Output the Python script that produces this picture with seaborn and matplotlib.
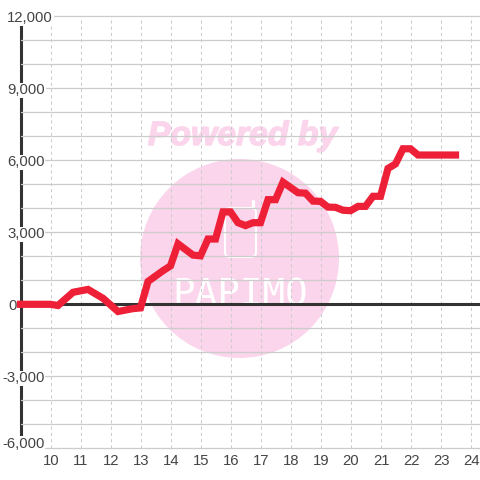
import matplotlib
matplotlib.use("Agg")
import matplotlib.pyplot as plt
import matplotlib.patheffects as pe
import seaborn as sns
import pandas as pd
from matplotlib.patches import Circle, FancyBboxPatch
from matplotlib.transforms import ScaledTranslation
from matplotlib.lines import Line2D

hours = [9, 9.5, 10, 10.25, 10.75, 11.25, 11.75, 12.25, 12.75, 13, 13.25, 13.75, 14, 14.25,
         14.75, 15, 15.25, 15.5, 15.75, 16, 16.25, 16.5, 16.75, 17, 17.25, 17.5, 17.75,
         18.25, 18.5, 18.75, 19, 19.25, 19.5, 19.75, 20, 20.25, 20.5, 20.75, 21, 21.25,
         21.5, 21.75, 22, 22.25, 22.5, 23, 23.5]
values = [0, 0, 0, -50, 500, 620, 250, -300, -180, -150, 950, 1400, 1600, 2520,
          2050, 2020, 2720, 2720, 3850, 3850, 3400, 3280, 3400, 3400, 4360, 4360, 5090,
          4650, 4630, 4300, 4290, 4050, 4040, 3920, 3900, 4080, 4080, 4500, 4500, 5660,
          5850, 6480, 6480, 6220, 6220, 6220, 6220]
x_ticks = list(range(10, 25))
y_ticks = list(range(-6000, 13000, 1000))
y_labels = {12000: "12,000", 9000: "9,000", 6000: "6,000", 3000: "3,000",
            0: "0", -3000: "-3,000", -6000: "-6,000"}
watermark_top = "Powered by"
watermark_logo = "PAPIMO"

W = H = 480
sns.set_theme(style="white")
plt.rcParams["font.family"] = ["Liberation Sans", "DejaVu Sans"]
fig = plt.figure(figsize=(W / 100, H / 100), dpi=100, facecolor="white")
LEFT, TOP, BOTTOM = 20.5, 16.3, 448.3
ax = fig.add_axes([LEFT / W, 1 - BOTTOM / H, (W - LEFT) / W, (BOTTOM - TOP) / H])
ax.set_facecolor("white")

def P(x, y):
    return (x / W, 1 - y / H)

PINK = "#fbd5ec"
ax.add_patch(Circle(P(239.5, 258.5), 99.5 / W, transform=fig.transFigure, fc=PINK, ec="none",
                    zorder=0.2, clip_on=False))
ax.text(*P(242.5, 145), watermark_top, transform=fig.transFigure, ha="center", va="baseline",
        fontsize=24.3, fontweight="bold", fontstyle="italic", color=PINK, zorder=0.2,
        path_effects=[pe.withStroke(linewidth=1.0, foreground=PINK)])
ax.add_patch(FancyBboxPatch(P(225, 257), 31 / W, 49 / H, boxstyle="round,pad=0,rounding_size=0.01",
                            transform=fig.transFigure, fc="none", ec="white", lw=1.5, zorder=0.3))
ax.add_line(Line2D([P(253.5, 206)[0], P(253.5, 200.5)[0]], [P(253.5, 206)[1], P(253.5, 200.5)[1]],
                   transform=fig.transFigure, color="white", lw=2.4, zorder=0.3))
ax.text(*P(240, 305), watermark_logo, transform=fig.transFigure, ha="center", va="baseline",
        fontsize=27, family="DejaVu Sans Mono", color="white", zorder=0.3)

df = pd.DataFrame({"hour": hours, "value": values})
sns.lineplot(data=df, x="hour", y="value", ax=ax, color="#ee2038", linewidth=5.2, estimator=None,
             solid_capstyle="projecting", solid_joinstyle="miter", clip_on=False, zorder=3)

ax.set_xlim(9, 9 + (W - LEFT) / 30)
ax.set_ylim(-6000, 12000)
ax.set_xticks(x_ticks)
ax.set_yticks(y_ticks)
ax.set_yticklabels([y_labels.get(v, "") for v in y_ticks])
ax.set_xlabel("")
ax.set_ylabel("")
for s in ax.spines.values():
    s.set_visible(False)
ax.set_axisbelow("line")
ax.grid(True, axis="y", color="#cccccc", linewidth=0.9)
ax.grid(True, axis="x", color="#cccccc", linewidth=0.75, linestyle=(0, (3, 3)))
for l in ax.get_ygridlines() + ax.get_xgridlines():
    l.set_clip_on(False)
ax.tick_params(axis="both", length=0, pad=0, labelsize=10.7, labelcolor="#444444")

ax.axvline(9, color="#333333", linewidth=2.2, zorder=1, clip_on=False)
ax.axhline(0, color="#333333", linewidth=2.2, zorder=1.8)

# left edge of each y label relative to the axis, and vertical shift, in pixels
offsets = {12000: (-13.5, 0.7), 9000: (-13.5, 0.7), 6000: (-13.5, 0.7), 3000: (-13.5, 0.7),
           0: (-12.5, 0.7), -3000: (-18.5, 0.7), -6000: (-18.5, -6.3)}
for tick, v in zip(ax.yaxis.get_major_ticks(), y_ticks):
    lab = tick.label1
    lab.set_ha("left")
    if v in offsets:
        dx, dy = offsets[v]
        lab.set_transform(lab.get_transform() + ScaledTranslation(dx / 100, -dy / 100, fig.dpi_scale_trans))
        lab.set_bbox(dict(fc="white", ec="none", pad=0.6))
for tick in ax.xaxis.get_major_ticks():
    lab = tick.label1
    lab.set_transform(lab.get_transform() + ScaledTranslation(0.5 / 100, -6 / 100, fig.dpi_scale_trans))

fig.savefig("out.png", dpi=100, facecolor="white")
